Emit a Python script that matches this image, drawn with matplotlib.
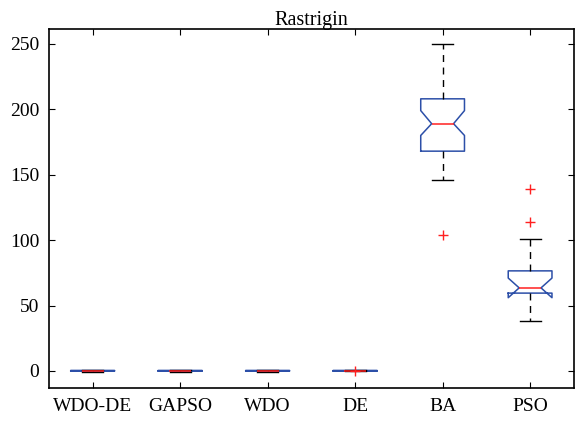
import matplotlib
matplotlib.use('Agg')
import matplotlib.pyplot as plt

plt.rcParams['font.family'] = ['Liberation Serif', 'DejaVu Serif']

labels = ['WDO-DE', 'GAPSO', 'WDO', 'DE', 'BA', 'PSO']
q1 = [0, 0, 0, 0, 168, 59.5]
med = [0, 0, 0, 0, 189, 63.5]
q3 = [0.4, 0.4, 0.4, 0.4, 208, 76.5]
whislo = [-0.8, -0.8, -0.8, 0, 146, 38]
whishi = [0.4, 0.4, 0.4, 0.4, 250, 101]
cilo = [0, 0, 0, 0, 180, 56]
cihi = [0.1, 0.1, 0.1, 0.1, 199, 71]
fliers = [[], [], [], [0.2], [104], [114, 139]]

stats = []
for i in range(len(labels)):
    stats.append({'label': labels[i], 'q1': q1[i], 'med': med[i], 'q3': q3[i],
                  'whislo': whislo[i], 'whishi': whishi[i],
                  'cilo': cilo[i], 'cihi': cihi[i], 'fliers': fliers[i]})

fig = plt.figure(figsize=(5.75, 4.24), dpi=100)
ax = fig.add_axes([0.085, 0.085, 0.913, 0.847])

ax.bxp(stats, positions=range(1, 7), widths=0.5, shownotches=True,
       boxprops=dict(color='#2c4fa8', linewidth=1.1),
       medianprops=dict(color='#ff2020', linewidth=1.1),
       whiskerprops=dict(color='black', linestyle=(0, (5, 4)), linewidth=1.0),
       capprops=dict(color='black', linewidth=1.0),
       capwidths=0.24,
       flierprops=dict(marker='+', markeredgecolor='#ff2020', markersize=7, linestyle='none'))

ax.set_xlim(0.5, 6.5)
ax.set_ylim(-13, 261.5)
ax.set_yticks([0, 50, 100, 150, 200, 250])
ax.set_xticks(range(1, 7))
ax.set_xticklabels(labels)
ax.tick_params(direction='in', top=True, right=True, labelsize=14, length=4, pad=7)
ax.set_title('Rastrigin', fontsize=14.5, pad=3)
for s in ax.spines.values():
    s.set_linewidth(1.2)

fig.savefig('out.png', dpi=100)
